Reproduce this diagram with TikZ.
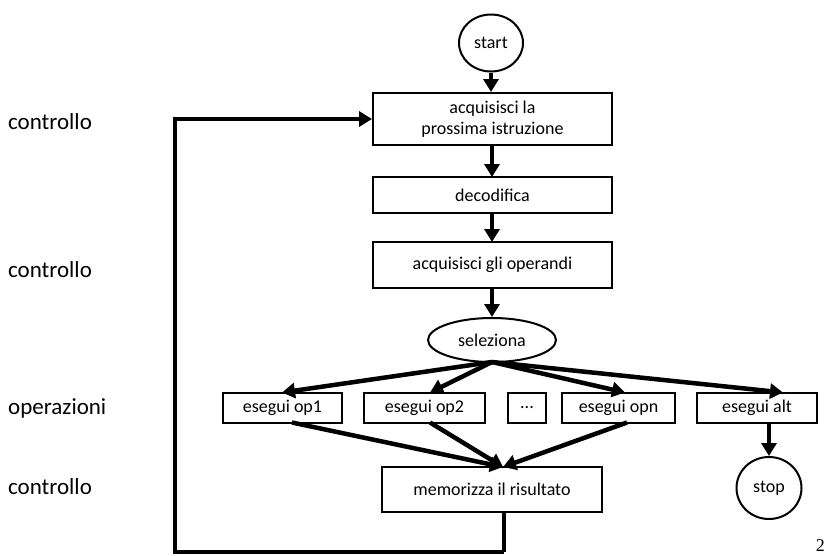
\documentclass[tikz,border=0pt]{standalone}
\usepackage{fontspec}
\setmainfont{Carlito}
\newfontfamily\numfont{Liberation Serif}
\usetikzlibrary{arrows.meta,shapes.geometric}

\begin{document}
\begin{tikzpicture}[x=1pt,y=-1pt,
  every node/.style={inner sep=0pt, font=\fontsize{18}{21.5}\selectfont},
  stepbox/.style={draw, line width=2pt, rectangle, align=center},
  terminal/.style={draw, line width=2pt, ellipse},
  flow/.style={line width=4.5pt, -{Triangle[length=13pt,width=15pt]}},
  plain/.style={line width=4.5pt},
  side/.style={anchor=west, font=\fontsize{23}{27}\selectfont}]

\useasboundingbox (0,0) rectangle (830,555);

% main column
\node[terminal, minimum width=64pt, minimum height=57pt] (start) at (491,43) {start};
\node[stepbox, minimum width=239pt, minimum height=52pt] (fetch) at (492.5,119)
  {acquisisci la\\prossima istruzione};
\node[stepbox, minimum width=239pt, minimum height=36pt] (dec) at (492.5,195) {decodifica};
\node[stepbox, minimum width=239pt, minimum height=46pt] (ops) at (492.5,265)
  {acquisisci gli operandi};
\node[terminal, minimum width=128pt, minimum height=44pt] (sel) at (492,340) {seleziona};

% execution row
\node[stepbox, minimum width=119pt, minimum height=30pt] (op1) at (282.5,407.5) {esegui op1};
\node[stepbox, minimum width=121pt, minimum height=30pt] (op2) at (424.5,407.5) {esegui op2};
\node[stepbox, minimum width=38pt,  minimum height=30pt] (dots) at (527,407.5) {...};
\node[stepbox, minimum width=113pt, minimum height=30pt] (opn) at (618.5,407.5) {esegui opn};
\node[stepbox, minimum width=120pt, minimum height=30pt] (alt) at (757,407.5) {esegui alt};

\node[stepbox, minimum width=220pt, minimum height=45pt] (store) at (492,489.5)
  {memorizza il risultato};
\node[terminal, minimum width=65pt, minimum height=62pt] (stop) at (769,488) {stop};

% side labels
\node[side] (l1) at (8,122) {controllo};
\node[side] (l2) at (8,270) {controllo};
\node[side] (l3) at (8,408) {operazioni};
\node[side] (l4) at (8,487) {controllo};
\node[font=\numfont\fontsize{18}{20}\selectfont, anchor=south east] (pg) at (825,552) {2};

% connectors
\draw[flow] (start.south) -- (start.south |- fetch.north);
\draw[flow] (492,145) -- (492,177);
\draw[flow] (492,213) -- (492,242);
\draw[flow] (492,288) -- (sel.north);

\coordinate (fork) at (492,362);
\draw[flow] (fork) -- (282,392.5);
\draw[flow] (fork) -- (430,392.5);
\draw[flow] (fork) -- (625,392.5);
\draw[flow] (fork) -- (783,392.5);

\coordinate (join) at (503,467);
\draw[flow] (292,422.5) -- (join);
\draw[flow] (430,422.5) -- (join);
\draw[flow] (627,422.5) -- (join);

\draw[flow] (769,422.5) -- (stop.north);

% loop back to the next instruction
\coordinate (c1) at (504,552);
\coordinate (c2) at (175,552);
\coordinate (c3) at (175,119);
\draw[plain] (504,512) -- (c1);
\draw[flow, line join=miter] (c1) -- (c2) -- (c3) -- (fetch.west);

\end{tikzpicture}
\end{document}
